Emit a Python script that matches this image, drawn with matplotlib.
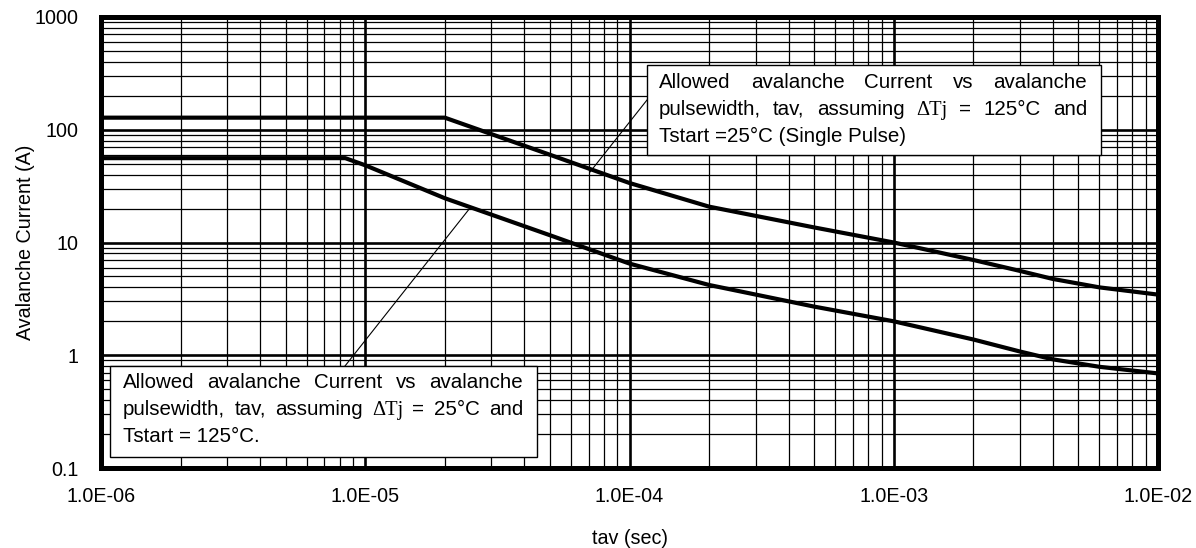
import matplotlib
matplotlib.use("Agg")
import matplotlib.pyplot as plt
from matplotlib.patches import Rectangle
from matplotlib.lines import Line2D
from matplotlib.ticker import LogLocator, NullFormatter

plt.rcParams["font.family"] = ["Liberation Sans", "DejaVu Sans"]

# data (tav in seconds, current in A)
upper_t = [1e-6, 2e-5, 5e-5, 1e-4, 2e-4, 5e-4, 1e-3, 2e-3, 3e-3, 4e-3, 6e-3, 1e-2]
upper_i = [128, 128, 60, 33.7, 20.8, 13.6, 10.0, 7.0, 5.6, 4.75, 4.0, 3.45]

lower_t = [1e-6, 8.4e-6, 1e-5, 2e-5, 5e-5, 1e-4, 2e-4, 5e-4, 1e-3, 2e-3, 3e-3, 4e-3, 6e-3, 1e-2]
lower_i = [56, 56, 48.4, 24.7, 11.6, 6.5, 4.2, 2.7, 2.0, 1.38, 1.08, 0.92, 0.79, 0.69]

x_ticks = [1e-6, 1e-5, 1e-4, 1e-3, 1e-2]
x_labels = ["1.0E-06", "1.0E-05", "1.0E-04", "1.0E-03", "1.0E-02"]
y_ticks = [0.1, 1, 10, 100, 1000]
y_labels = ["0.1", "1", "10", "100", "1000"]

upper_note = [
    ["Allowed", "avalanche", "Current", "vs", "avalanche"],
    ["pulsewidth,", "tav,", "assuming", "\u0394Tj", "=", "125\u00b0C", "and"],
    "Tstart =25\u00b0C (Single Pulse)",
]
lower_note = [
    ["Allowed", "avalanche", "Current", "vs", "avalanche"],
    ["pulsewidth,", "tav,", "assuming", "\u0394Tj", "=", "25\u00b0C", "and"],
    "Tstart = 125\u00b0C.",
]

W, H = 1196, 548
FS = 14.8

fig = plt.figure(figsize=(W / 100, H / 100), dpi=100)
ax = fig.add_axes([101 / W, 1 - 468 / H, (1158 - 101) / W, (468 - 17) / H])

ax.plot(upper_t, upper_i, color="black", lw=3.0, zorder=3)
ax.plot(lower_t, lower_i, color="black", lw=3.0, zorder=3)

ax.set_xscale("log")
ax.set_yscale("log")
ax.set_xlim(1e-6, 1e-2)
ax.set_ylim(0.1, 1000)
ax.set_xticks(x_ticks)
ax.set_xticklabels(x_labels)
ax.set_yticks(y_ticks)
ax.set_yticklabels(y_labels)
ax.xaxis.set_minor_locator(LogLocator(base=10, subs=range(2, 10), numticks=20))
ax.yaxis.set_minor_locator(LogLocator(base=10, subs=range(2, 10), numticks=20))
ax.xaxis.set_minor_formatter(NullFormatter())
ax.yaxis.set_minor_formatter(NullFormatter())

ax.set_axisbelow(True)
ax.grid(which="major", color="black", lw=1.9)
ax.grid(which="minor", color="black", lw=0.9)
ax.tick_params(axis="x", which="both", length=0, pad=14, labelsize=14.2)
ax.tick_params(axis="y", which="both", length=0, pad=16, labelsize=14.2)
for s in ax.spines.values():
    s.set_linewidth(3.6)

ax.set_xlabel("tav (sec)", fontsize=14.2, labelpad=16)
ax.set_ylabel("Avalanche Current (A)", fontsize=14.2, labelpad=0)

renderer = fig.canvas.get_renderer()


def fx(px):
    return px / W


def fy(py):
    return 1 - py / H


def word_text(word):
    fam = ["Liberation Serif", "DejaVu Serif"] if "\u0394" in word else ["Liberation Sans", "DejaVu Sans"]
    return fig.text(0, 0, word, fontsize=FS, family=fam, ha="left", va="baseline", zorder=6)


def put_note(lines, left, right, baselines):
    for line, base in zip(lines, baselines):
        if isinstance(line, str):
            t = word_text(line)
            t.set_position((fx(left), fy(base)))
            continue
        texts = [word_text(w) for w in line]
        widths = [t.get_window_extent(renderer).width for t in texts]
        gap = (right - left - sum(widths)) / (len(texts) - 1)
        x = left
        for t, w in zip(texts, widths):
            t.set_position((fx(x), fy(base)))
            x += w + gap


def put_box(x0, y0, x1, y1):
    fig.add_artist(Rectangle((fx(x0), fy(y1)), fx(x1 - x0), (y1 - y0) / H,
                             facecolor="white", edgecolor="black", lw=1.0, zorder=5))


# upper annotation
put_box(647, 65, 1101, 155)
fig.add_artist(Line2D([fx(647), fx(590)], [fy(100), fy(172)], color="black", lw=0.8, zorder=4))
put_note(upper_note, 659, 1087, [88, 115, 142])

# lower annotation
put_box(110, 366, 537, 457)
fig.add_artist(Line2D([fx(345), fx(470)], [fy(366), fy(208)], color="black", lw=0.8, zorder=4))
put_note(lower_note, 123, 523, [388, 415, 442])

fig.savefig("out.png", dpi=100)
